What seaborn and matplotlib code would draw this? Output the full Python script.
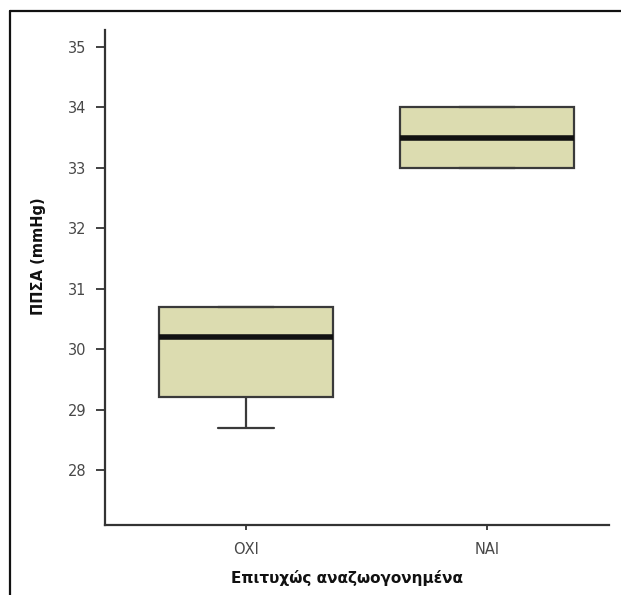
import numpy as np
import pandas as pd
import seaborn as sns
import matplotlib
matplotlib.use("Agg")
import matplotlib.pyplot as plt
from matplotlib.lines import Line2D

# Data (chosen to reproduce the box statistics)
categories = ["ΟΧΙ", "ΝΑΙ"]
values_oxi = [28.7, 29.2, 30.2, 30.7, 30.7]
values_nai = [33.0, 33.0, 33.5, 34.0, 34.0]
y_ticks = [28, 29, 30, 31, 32, 33, 34, 35]
x_label = "Επιτυχώς αναζωογονημένα"
y_label = "ΠΠΣΑ (mmHg)"

df = pd.DataFrame({
    "group": [categories[0]] * len(values_oxi) + [categories[1]] * len(values_nai),
    "value": values_oxi + values_nai,
})

sns.set_style("white")
plt.rcParams["font.family"] = ["DejaVu Sans"]

fig = plt.figure(figsize=(6.21, 5.95), dpi=100)
ax = fig.add_axes([105 / 621, 1 - 525 / 595, (609 - 105) / 621, (525 - 30) / 595])

edge = "#3a3a3a"
sns.boxplot(
    data=df, x="group", y="value", order=categories, ax=ax,
    width=0.72, color="#dcdcb0", saturation=1, whis=1.5, fliersize=0,
    boxprops=dict(facecolor="#dcdcb0", edgecolor=edge, linewidth=1.6),
    medianprops=dict(color="#111111", linewidth=4.0),
    whiskerprops=dict(color=edge, linewidth=1.6),
    capprops=dict(color=edge, linewidth=1.6),
    capwidths=0.236,
)

ax.set_xlim(-0.585, 1.506)
ax.set_ylim(27.09, 35.28)
ax.set_yticks(y_ticks)
ax.set_yticklabels([str(t) for t in y_ticks])

for s in ["top", "right"]:
    ax.spines[s].set_visible(False)
for s in ["left", "bottom"]:
    ax.spines[s].set_color("#333333")
    ax.spines[s].set_linewidth(1.6)

ax.tick_params(axis="y", left=True, length=6.5, width=1.3, color="#333333",
               pad=7, labelsize=10.5, labelcolor="#484848")
ax.tick_params(axis="x", bottom=True, length=3.5, width=1.3, color="#333333",
               pad=9, labelsize=10.5, labelcolor="#484848")

ax.set_xlabel(x_label, fontsize=11, fontweight="bold", color="#111111")
ax.set_ylabel(y_label, fontsize=10.5, fontweight="bold", color="#111111")
ax.xaxis.set_label_coords(0.481, -0.09)
ax.yaxis.set_label_coords(-0.118, 0.543)

# outer frame (left and top visible)
fig.add_artist(Line2D([10 / 621, 10 / 621], [0, 1 - 11 / 595], transform=fig.transFigure,
                      color="#111111", linewidth=1.6))
fig.add_artist(Line2D([10 / 621, 1], [1 - 11 / 595, 1 - 11 / 595], transform=fig.transFigure,
                      color="#111111", linewidth=1.6))

fig.savefig("out.png", dpi=100)
